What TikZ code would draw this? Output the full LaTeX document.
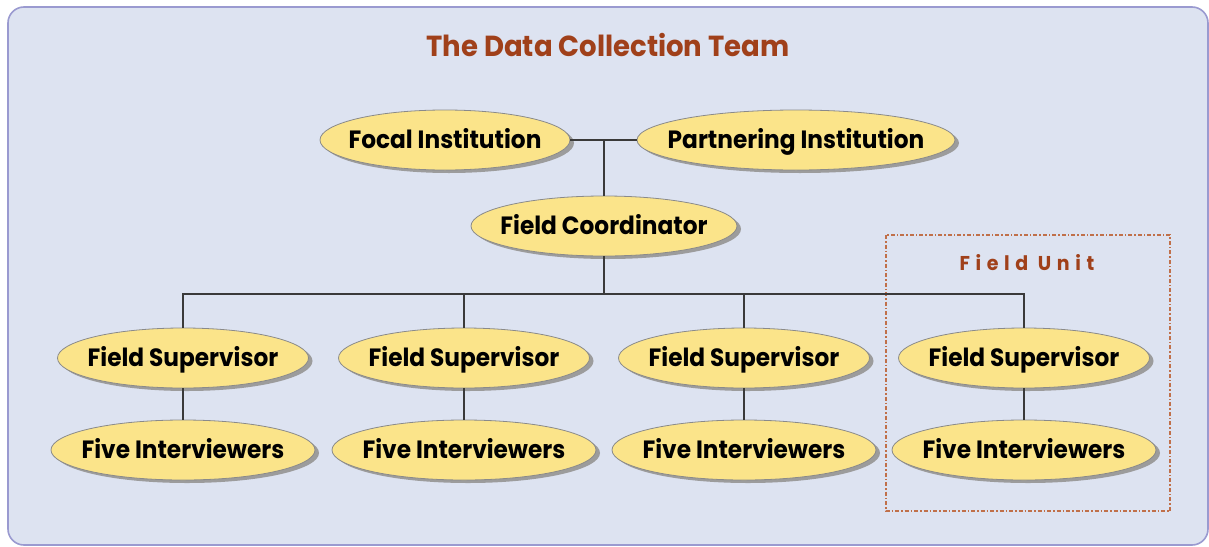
\documentclass[tikz,border=0pt]{standalone}
\usepackage{fontspec}
\setmainfont{Poppins}
\newfontfamily\lblfont[FakeStretch=0.93]{Poppins}
\newfontfamily\titlefont[FakeStretch=0.95]{Poppins}
\newfontfamily\unitfont[FakeStretch=0.95,LetterSpace=28]{Poppins}
\usetikzlibrary{shapes.geometric,shadows}
\definecolor{panelbg}{HTML}{DDE3F1}
\definecolor{panelline}{HTML}{9A9AD0}
\definecolor{ellfill}{HTML}{FBE48A}
\definecolor{elldraw}{HTML}{8A8A8A}
\definecolor{shadowc}{HTML}{9C9C9C}
\definecolor{linec}{HTML}{3A3A3A}
\definecolor{titlec}{HTML}{A0401A}
\definecolor{unitc}{HTML}{C0704A}
\newcommand{\fixw}[1]{\makebox[0pt]{#1}}
\tikzset{
  role/.style={ellipse, fill=ellfill, draw=elldraw, line width=0.8pt,
    minimum height=60pt, inner sep=0pt, text=black,
    text height=18pt, text depth=0.5pt,
    font=\lblfont\bfseries\fontsize{25}{28}\selectfont,
    drop shadow={shadow xshift=4pt, shadow yshift=-3pt, fill=shadowc, opacity=1}},
  link/.style={draw=linec, line width=1.4pt},
}
\begin{document}
\begin{tikzpicture}[x=1pt,y=-1pt]
\useasboundingbox (0,0) rectangle (1209,546);
\fill[panelbg, draw=panelline, line width=1.6pt, rounded corners=16pt] (8,7) rectangle (1208,545);

\node[font=\titlefont\bfseries\fontsize{29}{32}\selectfont, text=titlec] (title) at (608,45) {The Data Collection Team};

% dashed field unit box
\draw[unitc, line width=1.4pt, dash pattern=on 4pt off 2pt on 1.5pt off 2pt] (886,235) rectangle (1170,511);
\node[font=\unitfont\bfseries\fontsize{20}{22}\selectfont, text=titlec] (unit) at (1027,263) {Field Unit};

\node[role, minimum width=250pt] (focal) at (445,140) {\fixw{Focal Institution}};
\node[role, minimum width=318pt] (partner) at (796,140) {\fixw{Partnering Institution}};
\node[role, minimum width=266pt] (coord) at (604,226) {\fixw{Field Coordinator}};

\foreach \i/\x in {1/183,2/464,3/744,4/1024}{
  \node[role, minimum width=251pt] (fs\i) at (\x,358) {\fixw{Field Supervisor}};
  \node[role, minimum width=264pt] (fi\i) at (\x,450) {\fixw{Five Interviewers}};
}

\coordinate (j1) at (604,140);
\coordinate (bus) at (604,294);

\draw[link] (focal.east) -- (partner.west);
\draw[link] (j1) -- (coord.north);
\draw[link] (coord.south) -- (bus);
\draw[link] (fs1.north) |- (bus) -| (fs4.north);
\draw[link] (fs2.north) -- (fs2.north |- bus);
\draw[link] (fs3.north) -- (fs3.north |- bus);
\foreach \i in {1,2,3,4}{
  \draw[link] (fs\i.south) -- (fi\i.north);
}
\end{tikzpicture}
\end{document}
